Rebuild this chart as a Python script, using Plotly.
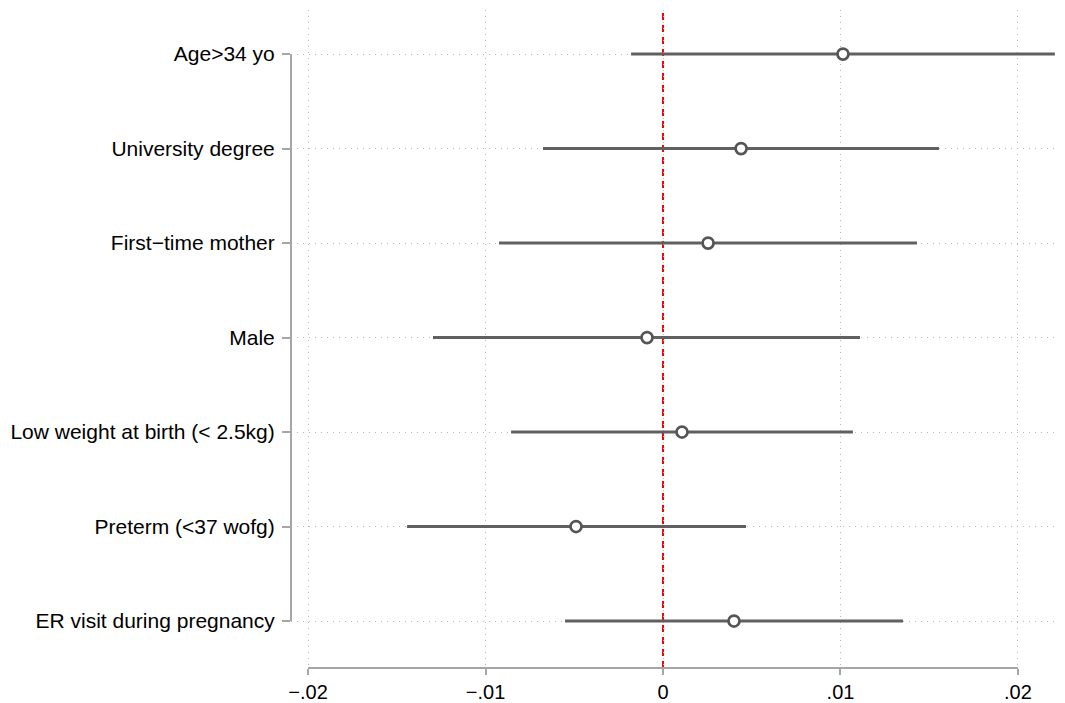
import plotly.graph_objects as go

categories = ["Age>34 yo", "University degree", "First\u2212time mother", "Male",
              "Low weight at birth (< 2.5kg)", "Preterm (<37 wofg)", "ER visit during pregnancy"]
estimates = [0.01014, 0.00440, 0.00254, -0.00090, 0.00107, -0.00490, 0.00400]
ci_low = [-0.00180, -0.00676, -0.00924, -0.01296, -0.00856, -0.01442, -0.00552]
ci_high = [0.02208, 0.01555, 0.01431, 0.01110, 0.01070, 0.00468, 0.01352]
x_ticks = [-0.02, -0.01, 0, 0.01, 0.02]
x_tick_labels = ["\u2212.02", "\u2212.01", "0", ".01", ".02"]
ref_value = 0

n = len(categories)
ypos = [n - i for i in range(n)]
err_plus = [h - e for h, e in zip(ci_high, estimates)]
err_minus = [e - l for e, l in zip(estimates, ci_low)]

FONT = "Liberation Sans, Arial, Helvetica, sans-serif"
GRAY_AX = "#a6a6a6"
GRID = "#b8b8b8"

fig = go.Figure()
fig.add_trace(go.Scatter(
    x=estimates, y=ypos, mode="markers",
    marker=dict(symbol="circle", size=11, color="white",
                line=dict(color="#555555", width=2.7)),
    error_x=dict(type="data", symmetric=False, array=err_plus, arrayminus=err_minus,
                 color="#606060", thickness=3, width=0),
    showlegend=False, cliponaxis=False,
))

shapes = [
    # reference line
    dict(type="line", xref="x", yref="paper", x0=ref_value, x1=ref_value, y0=0, y1=1.005,
         line=dict(color="#ff0000", width=2, dash="7px,5px"), layer="between"),
    # y axis line spanning categories only
    dict(type="line", xref="paper", yref="y", x0=0, x1=0, y0=min(ypos), y1=max(ypos),
         line=dict(color=GRAY_AX, width=2), layer="above"),
    # x axis line spanning ticks only
    dict(type="line", xref="x", yref="paper", x0=min(x_ticks), x1=max(x_ticks), y0=0, y1=0,
         line=dict(color=GRAY_AX, width=2), layer="above"),
]

# the page body adds an 8px margin; compensate so the plot lands where the reference has it
fig.update_layout(
    width=1057, height=695,
    margin=dict(l=283, r=0, t=2, b=35, autoexpand=False),
    paper_bgcolor="white", plot_bgcolor="white",
    font=dict(family=FONT, size=21, color="black"),
    shapes=shapes,
    xaxis=dict(range=[-0.02096, 0.02265], tickvals=x_ticks, ticktext=x_tick_labels,
               showgrid=True, gridcolor=GRID, griddash="1px,5px", gridwidth=1,
               zeroline=False, showline=False, automargin=False,
               ticks="outside", ticklen=6, tickwidth=2, tickcolor=GRAY_AX,
               ticklabelstandoff=0,
               tickfont=dict(size=20, family=FONT, color="black")),
    yaxis=dict(range=[0.503, 7.466], tickvals=ypos, ticktext=categories,
               showgrid=True, gridcolor=GRID, griddash="1px,5px", gridwidth=1,
               zeroline=False, showline=False, automargin=False,
               ticks="outside", ticklen=8, tickwidth=2, tickcolor=GRAY_AX,
               ticklabelstandoff=3,
               tickfont=dict(size=21, family=FONT, color="black")),
)

fig.write_html("out.html")
